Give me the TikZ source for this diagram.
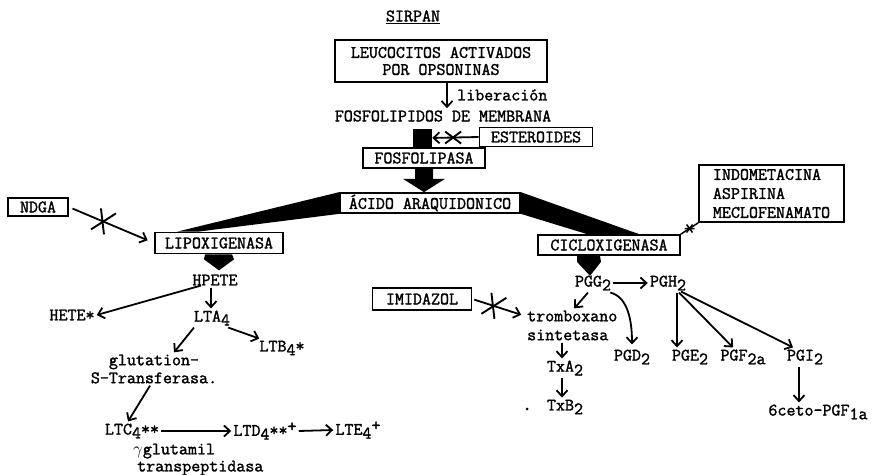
\documentclass[tikz,border=0pt]{standalone}
\usepackage{fontspec}
\setmonofont{Latin Modern Mono}[FakeBold=1.6]
\usetikzlibrary{arrows.meta,calc}
% lowered index and raised mark in typewriter text
\newcommand\dn[1]{\raisebox{-0.5ex}{#1}}
\newcommand\up[1]{\raisebox{0.55ex}{#1}}
\begin{document}
\begin{tikzpicture}[x=1pt,y=-1pt,
  every node/.style={font=\ttfamily\fontsize{17.5}{19}\selectfont, inner sep=2pt},
  box/.style={draw, line width=1.7pt, fill=white, inner sep=0pt},
  arr/.style={-{Straight Barb[length=6pt,width=11pt]}, line width=1.8pt},
  heavy/.style={fill=black},
  blockmark/.pic={\draw[line width=1.9pt] (-2,-13) -- (1,13) (-12,8) -- (13,-8);},
  crossmark/.pic={\draw[line width=1.9pt] (-8,-6) -- (8,6) (-8,6) -- (8,-6);},
  tinymark/.pic={\draw[line width=1.5pt] (-5,0) -- (5,0) (-3,-4) -- (3,4) (-3,4) -- (3,-4);}
]
\useasboundingbox (0,0) rectangle (874,474);

% ---------- top of the pathway ----------
\node (sirpan) at (413,17) {\underline{SIRPAN}};
\node[box, align=center, minimum width=212pt, minimum height=42pt,
      font=\ttfamily\fontsize{17.5}{17}\selectfont] (leuco) at (441,61)
  {LEUCOCITOS ACTIVADOS\\POR OPSONINAS};
\node[anchor=west] (liber) at (455,95) {liberación};
\node (fosmem) at (443,116) {FOSFOLIPIDOS DE MEMBRANA};
\node[box, minimum width=122pt, minimum height=20pt] (fosfo) at (424,158) {FOSFOLIPASA};
\node[heavy, minimum width=19pt, minimum height=18pt, inner sep=0pt, anchor=south]
  (stem) at ($(fosfo.north)+(-1.5,0)$) {};
\node[box, minimum width=113pt, minimum height=19pt] (ester) at (536,137) {ESTEROIDES};
\node[box, minimum width=180pt, minimum height=20pt] (acido) at (430,203) {ÁCIDO ARAQUIDONICO};

\draw[arr] ([xshift=6pt]leuco.south) -- ([xshift=6pt]leuco.south |- fosmem.north);
\draw[arr] (ester.west) -- coordinate[pos=0.55] (esterx) (stem.east);
\pic at (esterx) {crossmark};

% block arrow FOSFOLIPASA -> ACIDO
\fill ($(fosfo.south)+(-9,0)$) -- ($(fosfo.south)+(9,0)$) -- ($(fosfo.south)+(9,10)$)
  -- ($(fosfo.south)+(21,10)$) -- (fosfo.south |- acido.north)
  -- ($(fosfo.south)+(-21,10)$) -- ($(fosfo.south)+(-9,10)$) -- cycle;

% ---------- lipoxygenase branch ----------
\node[box, minimum width=60pt, minimum height=18pt] (ndga) at (38,207) {NDGA};
\node[box, minimum width=128pt, minimum height=21pt] (lipo) at (219,243) {LIPOXIGENASA};
\node (hpete) at (215,280) {HPETE};
\node (hete) at (72,315) {HETE*};
\node (lta) at (212,318) {LTA\dn{4}};
\node (ltb) at (282,348) {LTB\dn{4}*};
\node[align=center, font=\ttfamily\fontsize{17.5}{18}\selectfont] (glut) at (154,369)
  {glutation-\\S-Transferasa.};
\node (ltc) at (132,431) {LTC\dn{4}**};
\node (ltd) at (265,431) {LTD\dn{4}**\up{+}};
\node (lte) at (358,430) {LTE\dn{4}\up{+}};
\node[anchor=west] (gglu) at (131,451) {$\gamma$glutamil};
\node[anchor=west] (transp) at (135,468) {transpeptidasa};

% wedge ACIDO -> LIPOXIGENASA
\fill ($(lipo.north west)+(23,0)$) -- (acido.north west) -- (acido.south west)
  -- ($(lipo.north west)+(44,0)$) -- cycle;
% block arrow LIPOXIGENASA -> HPETE
\fill ($(lipo.south)+(-14,0)$) -- ($(lipo.south)+(13,0)$) -- ($(lipo.south)+(15,5)$)
  -- ($(lipo.south)+(0,16)$) -- ($(lipo.south)+(-15,5)$) -- cycle;

\draw[arr, shorten <=4pt, shorten >=7pt] (ndga.east) -- coordinate[pos=0.4] (ndgax) (lipo.west);
\pic at (ndgax) {blockmark};
\draw[arr] ([xshift=-4pt]hpete.south) -- ([xshift=-4pt]hpete.south |- lta.north);
\draw[arr] ([xshift=-14pt,yshift=2pt]hpete.south) -- (hete.east);
\draw[arr] ([xshift=-4pt]lta.south east) -- ([xshift=2pt]ltb.north west);
\draw[arr] ([xshift=-18pt]lta.south) -- ([xshift=20pt]glut.north);
\draw[arr] ([xshift=-4pt]glut.south) -- ([xshift=-4pt]ltc.north);
\draw[arr] (ltc.east) -- (ltd.west);
\draw[arr] (ltd.east) -- (lte.west);

% ---------- cyclooxygenase branch ----------
\node[box, align=left, minimum width=145pt, minimum height=57pt, inner xsep=10pt] (indo)
  at (771.5,193.5) {INDOMETACINA\\ASPIRINA\\MECLOFENAMATO};
\node[box, minimum width=142pt, minimum height=20pt] (ciclo) at (609,245) {CICLOXIGENASA};
\node (pgg) at (593,283) {PGG\dn{2}};
\node (pgh) at (668,283) {PGH\dn{2}};
\node[box, minimum width=99pt, minimum height=22pt] (imid) at (422,299) {IMIDAZOL};
\node[anchor=west] (trombo) at (525,316) {tromboxano};
\node[anchor=west] (sint) at (525,335) {sintetasa};
\node (txa) at (565,368) {TxA\dn{2}};
\node (txb) at (565,407) {TxB\dn{2}};
\fill (527,409) circle (1.5);
\node (pgd) at (632,357) {PGD\dn{2}};
\node (pge) at (690,357) {PGE\dn{2}};
\node (pgf) at (743,357) {PGF\dn{2a}};
\node (pgi) at (805,357) {PGI\dn{2}};
\node (ceto) at (818,412) {6ceto-PGF\dn{1a}};

% wedge ACIDO -> CICLOXIGENASA
\fill (acido.north east) -- ($(ciclo.north west)+(102,0)$)
  -- ($(ciclo.north west)+(50,0)$) -- (acido.south east) -- cycle;
% block arrow CICLOXIGENASA -> PGG2
\fill ($(ciclo.south -| pgg.north)+(-16,0)$) -- ($(ciclo.south -| pgg.north)+(7,0)$)
  -- ($(ciclo.south -| pgg.north)+(8,6)$) -- ($(ciclo.south -| pgg.north)+(-3,20)$)
  -- ($(ciclo.south -| pgg.north)+(-16,6)$) -- cycle;

\draw[line width=1.5pt] (ciclo.north east) -- coordinate[pos=0.5] (indox) (indo.south west);
\pic at (indox) {tinymark};

\draw[arr] (pgg.east) -- (pgh.west);
\draw[arr] ([xshift=-5pt]pgg.south) -- ([xshift=2pt]trombo.north);
\draw[arr] ([xshift=-3pt]pgg.south east) .. controls +(16,4) and +(0,-28) .. ([yshift=3pt]pgd.north);
\draw[arr, shorten <=2pt, shorten >=4pt] (imid.east) -- coordinate[pos=0.4] (imidx) (trombo.west);
\pic at (imidx) {blockmark};
\draw[arr] ([xshift=-3pt]txa.north |- sint.south) -- ([xshift=-3pt]txa.north);
\draw[arr] ([xshift=-3pt]txa.south) -- ([xshift=-3pt]txb.north);
\draw[arr] ([xshift=9pt]pgh.south) -- ([xshift=9pt]pgh.south |- pge.north);
\draw[arr] ([xshift=11pt]pgh.south) -- ([xshift=-10pt]pgf.north);
\draw[arr] ([xshift=13pt,yshift=1pt]pgh.south) -- ([xshift=-12pt]pgi.north);
\draw[arr] ([xshift=-6pt]pgi.south) -- ([xshift=-6pt]pgi.south |- ceto.north);
\end{tikzpicture}
\end{document}
